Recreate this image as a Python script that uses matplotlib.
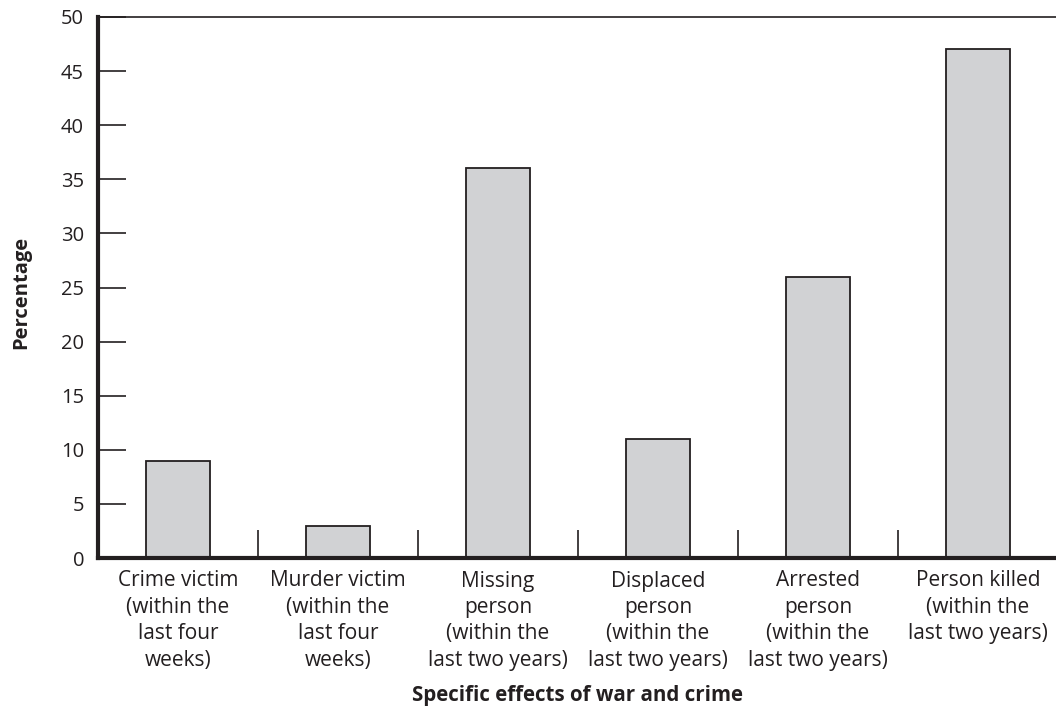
import matplotlib
matplotlib.use("Agg")
import matplotlib.pyplot as plt
import numpy as np

categories = [
    "Crime victim\n(within the\nlast four\nweeks)",
    "Murder victim\n(within the\nlast four\nweeks)",
    "Missing\nperson\n(within the\nlast two years)",
    "Displaced\nperson\n(within the\nlast two years)",
    "Arrested\nperson\n(within the\nlast two years)",
    "Person killed\n(within the\nlast two years)",
]
values = [9, 3, 36, 11, 26, 47]
yticks = [0, 5, 10, 15, 20, 25, 30, 35, 40, 45, 50]

plt.rcParams['font.family'] = ['Open Sans', 'DejaVu Sans']
dark = '#231f20'

fig = plt.figure(figsize=(10.56, 7.08), dpi=100)
ax = fig.add_axes([98/1056, 1 - 558/708, 960/1056, (558-17)/708])

x = np.arange(len(values)) + 0.5
ax.bar(x, values, width=0.4, color='#d1d2d4', edgecolor=dark, linewidth=1.3)

ax.set_xlim(0, len(values))
ax.set_ylim(0, 50)
ax.set_yticks(yticks)
ax.set_yticklabels([str(t) for t in yticks], fontsize=14.5, color=dark)
ax.tick_params(axis='y', direction='in', length=20, width=1.2, color=dark, pad=10)

ax.set_xticks(np.arange(1, len(values)))
ax.set_xticklabels([])
ax.tick_params(axis='x', direction='in', length=20, width=1.2, color=dark)
ax.set_xticks(x, minor=True)
ax.set_xticklabels(categories, minor=True, fontsize=15, color=dark, linespacing=1.34, va='top', ha='center')
ax.tick_params(axis='x', which='minor', length=0, pad=9)

ax.spines['left'].set_linewidth(3)
ax.spines['bottom'].set_linewidth(3)
ax.spines['left'].set_color(dark)
ax.spines['bottom'].set_color(dark)
ax.spines['top'].set_linewidth(1.2)
ax.spines['top'].set_color(dark)
ax.spines['right'].set_visible(False)

fig.text(21/1056, 1 - 292/708, 'Percentage', rotation=90, ha='center', va='center',
         fontsize=14.5, fontweight='bold', color=dark)
fig.text(578/1056, 1 - 696/708, 'Specific effects of war and crime', ha='center', va='center',
         fontsize=14.8, fontweight='bold', color=dark)

fig.savefig('out.png', dpi=100)
